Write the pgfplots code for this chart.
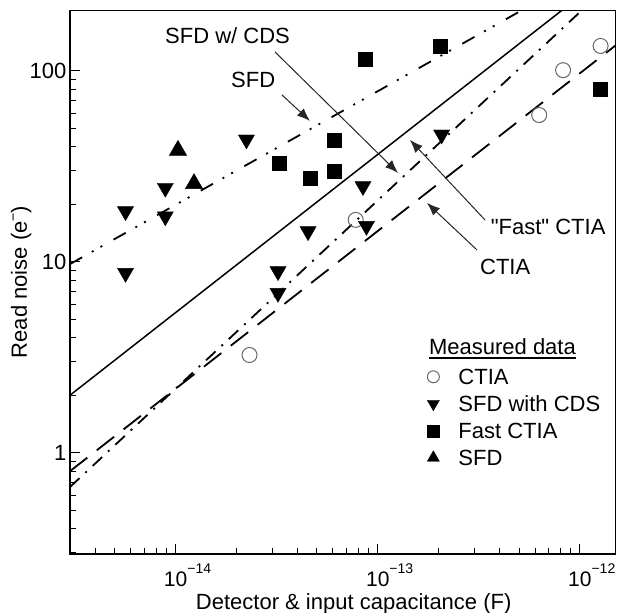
\documentclass[border=0pt]{standalone}
\usepackage{fontspec}
\setmainfont{Liberation Sans}
\newfontfamily\plainfont{Liberation Sans}
\usepackage{pgfplots}
\pgfplotsset{compat=1.18}
\usetikzlibrary{arrows.meta}
\newcommand{\E}[1]{10\rlap{\raisebox{13bp}{\fontsize{14bp}{14bp}\selectfont #1}}}
\newcommand{\F}{\fontsize{22bp}{26bp}\selectfont}
\begin{document}
\begin{tikzpicture}
\begin{axis}[name=ax,
  scale only axis, width=545.5bp, height=543.6bp,
  xmode=log, ymode=log, log basis x=10, log basis y=10,
  xmin=3e-15, xmax=1.5e-12, ymin=0.295, ymax=208,
  axis line style={line width=1.3bp},
  every tick/.style={black, line width=1bp},
  major tick length=10bp, minor tick length=6bp,
  xtick pos=bottom, ytick pos=left, tick align=inside,
  xticklabel={\pgfmathtruncatemacro\ex{-round(\tick)}\E{−\ex}},
  yticklabel={\pgfmathtruncatemacro\v{round(10^\tick)}\v},
  tick label style={font=\F},
  xticklabel style={anchor=base, yshift=-32.7bp, font=\fontsize{21bp}{25bp}\selectfont},
  xlabel={Detector \& input capacitance (F)},
  ylabel={Read noise (e\raisebox{9bp}{\fontsize{14bp}{14bp}\selectfont −})},
  every axis x label/.style={at={([xshift=11bp,yshift=-56bp]rel axis cs:0.5,0)}, anchor=base, font=\F, inner sep=0pt},
  every axis y label/.style={at={([xshift=-48.7bp]rel axis cs:0,0.5)}, anchor=center, rotate=90, font=\F, inner sep=0pt},
  legend style={draw=none, fill=none, at={(rel axis cs:0.6547,0.3455)}, anchor=north west,
    inner sep=0pt, row sep=6bp, column sep=18bp, font=\F,
    nodes={inner sep=1bp, text height=17bp, text depth=2bp}},
  legend cell align=left,
  legend image code/.code={\draw[#1] plot coordinates {(6bp,0bp)};},
]
% model lines
\addplot[forget plot, black, line width=1.5bp] coordinates {(3e-15,2.0) (8.15e-13,208)};
\addplot[forget plot, black, line width=1.8bp, dash pattern=on 13bp off 8bp on 2bp off 8bp] coordinates {(3e-15,0.661) (1.023e-12,208)};
\addplot[forget plot, black, line width=1.8bp, dash pattern=on 22bp off 12bp] coordinates {(3e-15,0.80) (1.5e-12,136)};
\addplot[forget plot, black, line width=1.8bp, dash pattern=on 14bp off 11bp on 2bp off 8bp on 2bp off 13bp] coordinates {(3e-15,9.73) (5.16e-13,208)};
% measured data
\addplot[forget plot, only marks, mark=o, mark size=7.5bp, draw=black!60, line width=1bp] coordinates {
(2.32e-14,3.25) (7.78e-14,16.6) (6.29e-13,58.8) (8.26e-13,101) (1.266e-12,135.3)};
\addplot[forget plot, only marks, mark=triangle*, mark size=9.3bp, mark options={rotate=180, fill=black, draw=black}] coordinates {
(5.65e-15,18.4) (5.65e-15,8.74) (8.89e-15,24.4) (8.89e-15,17.3) (2.24e-14,43.7) (4.52e-14,14.45)
(3.21e-14,8.92) (3.21e-14,6.87) (8.45e-14,24.9) (8.79e-14,15.4) (2.07e-13,46.4)};
\addplot[forget plot, only marks, mark=square*, mark size=7bp, mark options={fill=black, draw=black}] coordinates {
(3.27e-14,32.8) (4.61e-14,27.4) (6.08e-14,43.5) (6.08e-14,30.0) (8.69e-14,115.2) (2.03e-13,134.1) (1.266e-12,80.2)};
\addplot[forget plot, only marks, mark=triangle*, mark size=10bp, mark options={fill=black, draw=black}] coordinates {
(1.027e-14,38.4) (1.233e-14,25.7)};
% legend
\addlegendimage{only marks, mark=o, mark size=6bp, draw=black!60, line width=1bp}
\addlegendentry{CTIA}
\addlegendimage{only marks, mark=triangle*, mark size=7bp, mark options={rotate=180, fill=black, draw=black}}
\addlegendentry{SFD with CDS}
\addlegendimage{only marks, mark=square*, mark size=6bp, mark options={fill=black, draw=black}}
\addlegendentry{Fast CTIA}
\addlegendimage{only marks, mark=triangle*, mark size=7bp, mark options={fill=black, draw=black}}
\addlegendentry{SFD}
% annotations
\node[anchor=base west, inner sep=0pt, font=\F] (t) at (rel axis cs:0.658,0.366) {Measured data};
\draw[line width=1.2bp] ([yshift=-3bp]t.base west) -- ([yshift=-3bp]t.base east);
\node[anchor=base west, inner sep=0pt, font=\F] at (rel axis cs:0.1742,0.9395) {SFD w/ CDS};
\node[anchor=base west, inner sep=0pt, font=\F] at (rel axis cs:0.2951,0.8578) {SFD};
\node[anchor=base west, inner sep=0pt, font=\F] at (rel axis cs:0.7712,0.5881) {{\plainfont "Fast"} CTIA};
\node[anchor=base west, inner sep=0pt, font=\F] at (rel axis cs:0.7516,0.5132) {CTIA};
\draw[line width=1bp, black!85, -{Latex[length=13bp,width=10bp]}] (rel axis cs:0.3758,0.9235) -- (rel axis cs:0.6013,0.7009);
\draw[line width=1bp, black!85, -{Latex[length=13bp,width=10bp]}] (rel axis cs:0.3886,0.8444) -- (rel axis cs:0.4400,0.7965);
\draw[line width=1bp, black!85, -{Latex[length=13bp,width=10bp]}] (rel axis cs:0.7608,0.6144) -- (rel axis cs:0.6233,0.7616);
\draw[line width=1bp, black!85, -{Latex[length=13bp,width=10bp]}] (rel axis cs:0.7461,0.5592) -- (rel axis cs:0.6545,0.6457);
\end{axis}
\pgfresetboundingbox
\path ([shift={(-70bp,-59.1bp)}]ax.south west) rectangle ([shift={(3.5bp,10.3bp)}]ax.north east);
\end{tikzpicture}
\end{document}
